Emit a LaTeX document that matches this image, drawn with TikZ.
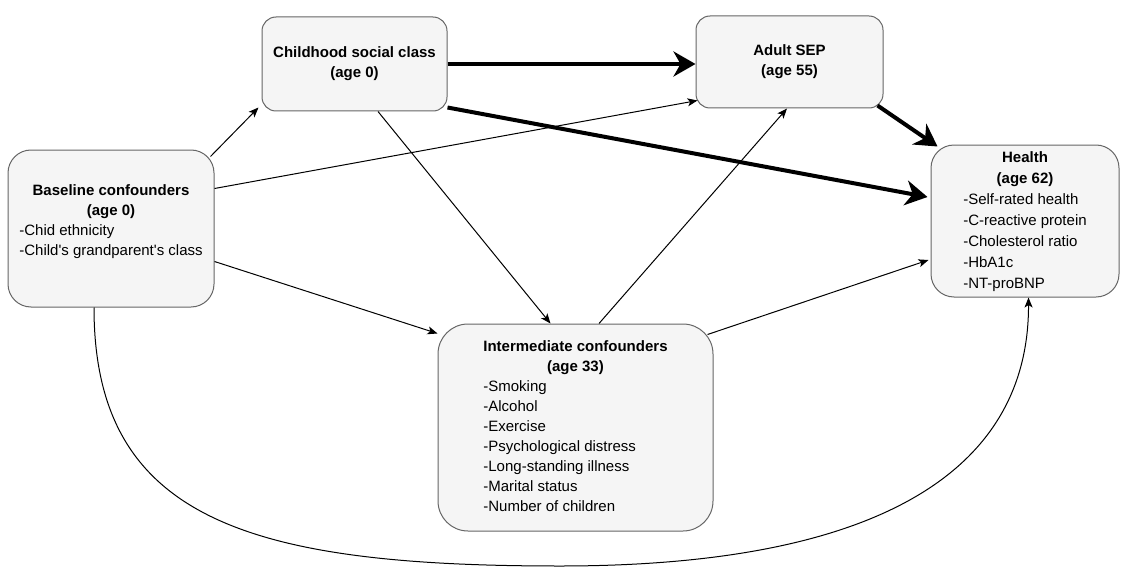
\documentclass[tikz,border=0pt]{standalone}
\usepackage{fontspec}
\setmainfont{Liberation Sans}[Ligatures=TeXOff]
\usetikzlibrary{arrows.meta, positioning}
\definecolor{boxline}{HTML}{666666}
\definecolor{boxfill}{HTML}{F5F5F5}
\tikzset{
  >={Stealth[length=10pt,width=8pt,inset=2.5pt]},
  box/.style={draw=boxline, fill=boxfill, line width=1pt, rounded corners=#1,
    inner sep=0pt, align=center, font=\fontsize{15}{20}\selectfont},
  heavy/.style={line width=4pt, -{Stealth[length=22pt,width=25pt,inset=7pt]}},
}

\begin{document}
\begin{tikzpicture}[x=1pt, y=-1pt, line width=1pt]
  \useasboundingbox (0,0) rectangle (1121,567);

  % boxes
  \node[box=23pt, minimum width=206pt, minimum height=157pt] (base) at (111,228.5)
    {\begin{tabular}{@{}l@{}}
      \multicolumn{1}{@{}c@{}}{\bfseries Baseline confounders}\\
      \multicolumn{1}{@{}c@{}}{\bfseries (age 0)}\\
      -Chid ethnicity\\
      -Child's grandparent's class\\[14pt]
    \end{tabular}};
  \node[box=14pt, minimum width=185pt, minimum height=94pt] (child) at (354.5,64)
    {\bfseries Childhood social class\\ \bfseries (age 0)};
  \node[box=14pt, minimum width=187pt, minimum height=92pt] (adult) at (789.5,62)
    {\bfseries Adult SEP\\ \bfseries (age 55)};
  \node[box=23pt, minimum width=188pt, minimum height=152pt] (health) at (1025,221)
    {\renewcommand\arraystretch{1.05}\begin{tabular}{@{}l@{}}
      \multicolumn{1}{@{}c@{}}{\bfseries Health}\\
      \multicolumn{1}{@{}c@{}}{\bfseries (age 62)}\\
      -Self-rated health\\
      -C-reactive protein\\
      -Cholesterol ratio\\
      -HbA1c\\
      -NT-proBNP
    \end{tabular}};
  \node[box=30pt, minimum width=275pt, minimum height=207pt] (inter) at (575.5,427.5)
    {\begin{tabular}{@{}l@{}}
      \multicolumn{1}{@{}c@{}}{\bfseries Intermediate confounders}\\
      \multicolumn{1}{@{}c@{}}{\bfseries (age 33)}\\
      -Smoking\\
      -Alcohol\\
      -Exercise\\
      -Psychological distress\\
      -Long-standing illness\\
      -Marital status\\
      -Number of children
    \end{tabular}};
  \coordinate (low) at (560,566);

  % paths
  \draw[->] ([xshift=-4pt,yshift=-7pt]base.north east) -- ([xshift=-3pt,yshift=4pt]child.south west);
  \draw[->] ([yshift=40pt]base.east) -- ([xshift=2pt,yshift=8pt]adult.south west);
  \draw[->] ([yshift=-33pt]base.east) -- ([yshift=-10pt]inter.north west);
  \draw[->] ([xshift=23.5pt]child.south) -- ([xshift=-25pt]inter.north);
  \draw[->] ([xshift=23.5pt]inter.north) -- ([xshift=-2.5pt]adult.south);
  \draw[->] ([xshift=-6pt,yshift=-11pt]inter.north east) -- ([xshift=-2pt,yshift=-39pt]health.west);
  \draw[heavy] (child.east) -- (child.east -| adult.west);
  \draw[heavy] ([yshift=4pt]child.south east) -- ([xshift=-3pt,yshift=24pt]health.west);
  \draw[heavy] ([xshift=-6pt,yshift=3pt]adult.south east) -- ([xshift=7pt,yshift=-2pt]health.north west);
  \draw[->] ([xshift=-17pt]base.south) .. controls (94,520) and (250,566) .. (low)
    .. controls (880,566) and (1029,470) .. ([xshift=3.5pt]health.south);

\end{tikzpicture}
\end{document}
